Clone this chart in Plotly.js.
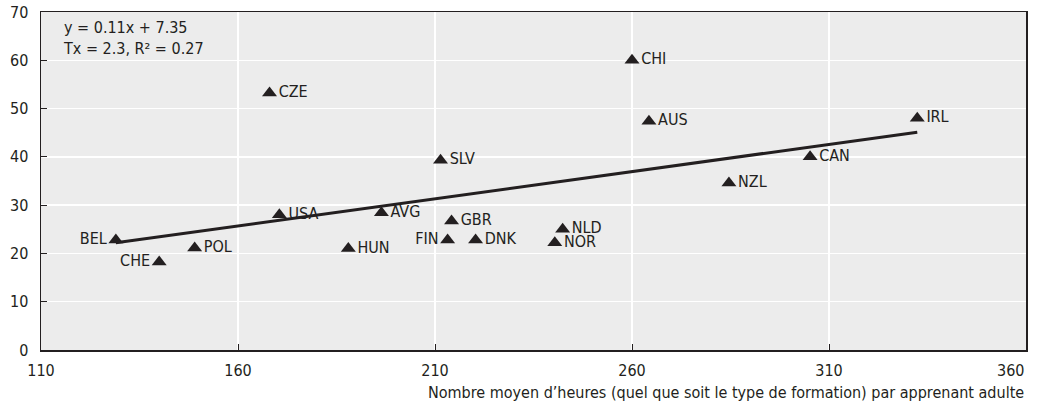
<!DOCTYPE html>
<html><head><meta charset="utf-8">
<script src="https://cdn.plot.ly/plotly-3.0.1.min.js"></script>
<style>body{margin:0;background:#fff}#chart{width:1037px;height:405px}
#chart text{font-stretch:condensed !important;}</style>
</head><body><div id="chart"></div>
<script>
const countries = ["BEL","CHE","POL","USA","CZE","HUN","AVG","FIN","GBR","SLV","DNK","NLD","NOR","CHI","AUS","NZL","CAN","IRL"];
const hours =     [129, 140, 149, 170.5, 168, 188, 196.4, 213.2, 214.2, 211.4, 220.3, 242.4, 240.4, 260, 264.3, 284.6, 305.2, 332.4];
const values =    [22.8, 18.2, 21.1, 28, 53.2, 21, 28.4, 22.8, 26.7, 39.3, 22.8, 25, 22.2, 60, 47.4, 34.6, 40, 48];
const labelPos =  ["middle left","middle left","middle right","middle right","middle right","middle right","middle right","middle left","middle right","middle right","middle right","middle right","middle right","middle right","middle right","middle right","middle right","middle right"];
const trendX = [129, 332.4];
const trendY = [22.2, 45.1];
const xTicks = [110, 160, 210, 260, 310];
const xLastTick = 360;
const yTicks = [0, 10, 20, 30, 40, 50, 60, 70];
const eqLines = ["y = 0.11x + 7.35", "Tx = 2.3, R² = 0.27"];
const xTitle = "Nombre moyen d’heures (quel que soit le type de formation) par apprenant adulte";

const FONT = "'DejaVu Sans Condensed', 'Liberation Sans Narrow', 'DejaVu Sans', sans-serif";
const INK = "#231f20";
const FS = 16;

const traces = [
  {x: trendX, y: trendY, mode: "lines", line: {color: INK, width: 3}, hoverinfo: "skip", showlegend: false},
  {x: hours, y: values, mode: "markers+text", text: countries, textposition: labelPos,
   marker: {symbol: "triangle-up", size: 13, color: INK},
   textfont: {family: FONT, size: FS, color: INK}, showlegend: false}
];

const layout = {
  width: 1037, height: 405,
  margin: {l: 41, r: 11, t: 12, b: 55},
  paper_bgcolor: "#ffffff", plot_bgcolor: "#ececec",
  font: {family: FONT, size: FS, color: INK},
  xaxis: {range: [110, 360], tickvals: xTicks.concat([xLastTick]), ticktext: xTicks.map(String).concat([""]),
          ticks: "inside", ticklen: 6, tickcolor: INK, ticklabelstandoff: 5,
          showgrid: true, gridcolor: "#ffffff", gridwidth: 1.5, zeroline: false,
          showline: true, linecolor: INK, linewidth: 1.5, mirror: true,
          tickfont: {family: FONT, size: FS, color: INK}},
  yaxis: {range: [0, 70], tickvals: yTicks, ticks: "inside", ticklen: 6, tickcolor: INK, ticklabelstandoff: 8,
          showgrid: true, gridcolor: "#ffffff", gridwidth: 1.5, zeroline: false,
          showline: true, linecolor: INK, linewidth: 1.5, mirror: true,
          tickfont: {family: FONT, size: FS, color: INK}},
  annotations: [
    {xref: "x", yref: "y", x: xLastTick, y: 0, xanchor: "right", yanchor: "top", yshift: -9,
     text: String(xLastTick), showarrow: false, font: {family: FONT, size: FS, color: INK}},
    {xref: "paper", yref: "paper", x: 0.0205, y: 1, xanchor: "left", yanchor: "top", align: "left", yshift: -4,
     text: eqLines.join("<br>"), showarrow: false, font: {family: FONT, size: FS, color: INK}},
    {xref: "paper", yref: "paper", x: 1.0, y: -0.092, xanchor: "right", yanchor: "top",
     text: xTitle, showarrow: false, font: {family: FONT, size: FS, color: INK}}
  ]
};
Plotly.newPlot("chart", traces, layout, {displayModeBar: false, staticPlot: true});
</script></body></html>
